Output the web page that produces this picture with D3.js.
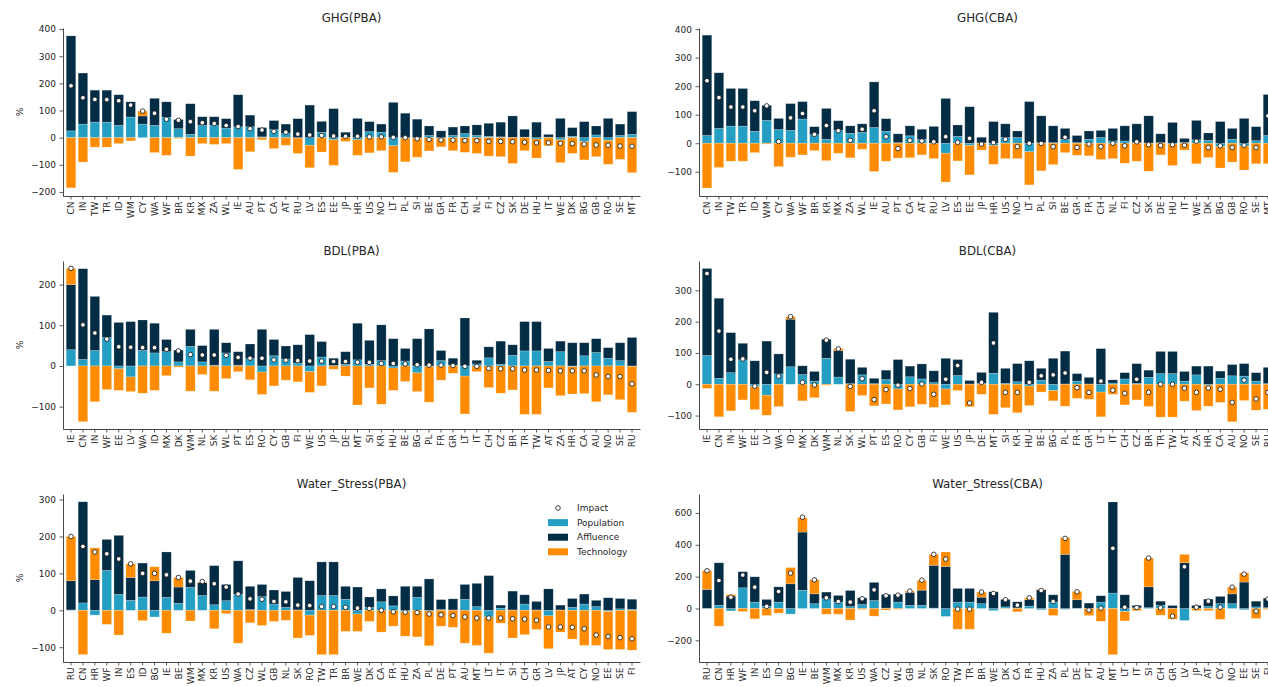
<!DOCTYPE html>
<html>
<head>
<meta charset="utf-8">
<script src="https://cdn.jsdelivr.net/npm/d3@7"></script>
<style>
  body { margin: 0; background: #fff; }
  text { font-family: "DejaVu Sans", sans-serif; }
</style>
</head>
<body>
<svg id="chart" width="1268" height="687"></svg>
<script>
// country order per indicator (same order for PBA and CBA)
const ghgCountries = ["CN","IN","TW","TR","ID","WM","CY","WA","WF","BR","KR","MX","ZA","WL","IE","AU","PT","CA","AT","RU","LV","ES","EE","JP","HR","US","NO","LT","PL","SI","BE","GR","FR","CH","NL","FI","CZ","SK","DE","HU","IT","WE","DK","BG","GB","RO","SE","MT"];
const bdlCountries = ["IE","CN","IN","WF","EE","LV","WA","ID","MX","DK","WM","NL","SK","WL","PT","ES","RO","CY","GB","FI","WE","US","JP","DE","MT","SI","KR","HU","BE","BG","PL","FR","GR","LT","IT","CH","CZ","BR","TR","TW","AT","ZA","HR","CA","AU","NO","SE","RU"];
const waterCountries = ["RU","CN","HR","WF","IN","ES","ID","BG","IE","BE","WM","MX","KR","US","WA","CZ","WL","GB","NL","SK","RO","TW","TR","BR","WE","DK","CA","FR","HU","ZA","PL","DE","PT","AU","MT","LT","IT","SI","CH","GR","LV","JP","AT","CY","NO","EE","SE","FI"];

// GHG (PBA)
const ghgPbaPop = [25,50,57,57,45,76,50,45,75,33,12,45,45,35,40,40,3,30,15,-2,-28,20,-8,1,-8,22,20,-30,-3,-2,8,-2,8,15,8,5,3,1,2,-5,2,-8,5,-15,10,-10,8,12];
const ghgPbaAff = [350,188,118,118,113,56,30,100,57,34,113,32,32,35,118,43,34,33,35,70,120,40,107,19,71,37,30,130,90,68,35,25,31,28,39,48,54,79,29,57,10,71,32,59,33,71,42,84];
const ghgPbaTech = [-185,-90,-35,-35,-22,-12,18,-55,-65,-3,-68,-22,-25,-22,-117,-52,-8,-40,-28,-56,-83,-53,-94,-14,-57,-56,-48,-98,-86,-70,-49,-32,-48,-54,-58,-68,-70,-95,-48,-70,-30,-84,-58,-67,-70,-88,-80,-129];
const ghgPbaImpact = [191,147,141,140,136,120,98,90,68,64,59,55,52,45,41,33,28,23,20,13,10,8,6,5,5,3,3,1,0,-4,-7,-9,-9,-11,-11,-14,-14,-15,-17,-19,-19,-21,-22,-24,-27,-28,-31,-32];

// GHG (CBA)
const ghgCbaPop = [27,52,60,60,42,80,48,45,85,30,14,45,35,38,55,42,2,26,13,-1,-35,24,-8,1,-8,20,20,-30,2,2,14,2,14,20,8,8,2,1,2,-3,3,12,10,-12,14,-10,9,27];
const ghgCbaAff = [352,195,132,132,107,53,39,94,61,28,108,34,26,30,160,44,31,35,36,59,157,40,128,20,76,48,23,146,94,59,38,25,29,25,44,53,66,95,31,73,14,68,26,76,38,87,49,144];
const ghgCbaTech = [-157,-85,-63,-63,-33,-3,-82,-49,-41,-26,-61,-35,-51,-21,-99,-63,-52,-51,-41,-53,-101,-62,-103,-24,-66,-54,-54,-116,-97,-75,-33,-42,-44,-57,-54,-70,-63,-98,-41,-75,-24,-72,-50,-75,-66,-84,-72,-72];
const ghgCbaImpact = [219,160,127,127,114,131,6,89,104,31,62,44,10,49,114,23,-19,10,8,5,23,3,17,-3,2,14,-12,0,-1,-12,21,-15,-3,-12,0,-9,5,-5,-8,-5,-7,7,-15,-9,-15,-7,-15,96];

// BDL (PBA)
const bdlPbaPop = [40,16,38,70,-7,-27,38,32,35,10,48,10,2,32,2,18,-15,25,17,7,-14,22,1,4,15,4,13,-5,12,-17,-2,13,2,-25,5,20,4,26,37,37,11,35,-2,25,33,19,13,-1];
const bdlPbaAff = [160,223,133,55,107,109,75,73,30,29,42,40,88,25,33,36,90,40,32,45,77,38,18,31,90,59,88,67,31,67,91,25,17,118,9,27,57,26,72,72,32,26,57,32,34,26,44,70];
const bdlPbaTech = [40,-137,-88,-58,-53,-36,-67,-60,-24,-3,-62,-21,-62,-31,-14,-34,-55,-49,-35,-39,-51,-49,-8,-25,-96,-54,-94,-55,-38,-46,-87,-35,-18,-93,-14,-53,-67,-59,-119,-119,-54,-73,-67,-68,-88,-71,-83,-113];
const bdlPbaImpact = [240,101,81,66,47,46,45,45,41,37,28,27,27,26,21,19,19,15,14,13,12,12,11,11,9,9,6,6,5,3,2,2,1,-1,-1,-6,-7,-7,-10,-10,-11,-12,-12,-12,-22,-26,-26,-44];

// BDL (CBA)
const bdlCbaPop = [92,19,37,78,-7,-35,33,56,31,10,83,23,2,30,2,15,-15,24,17,5,-15,28,1,3,35,3,8,-6,13,-20,1,10,1,-25,4,17,3,22,34,34,10,30,-3,19,27,26,10,2];
const bdlCbaAff = [278,256,128,53,75,138,64,152,28,31,61,84,78,24,17,30,79,34,48,38,83,51,11,35,195,48,58,75,38,83,105,24,21,114,10,20,63,23,71,71,31,28,58,23,36,40,27,52];
const bdlCbaTech = [-13,-104,-85,-50,-74,-64,-71,8,-53,-43,-3,7,-87,-36,-69,-63,-67,-72,-64,-74,-51,-20,-72,-32,-96,-75,-91,-62,-25,-33,-70,-45,-48,-79,-32,-66,-50,-71,-105,-105,-54,-84,-67,-58,-120,-52,-83,-80];
const bdlCbaImpact = [354,170,80,81,-6,38,26,216,6,-2,141,113,-7,18,-49,-17,-3,-14,1,-32,16,60,-60,6,132,-26,-26,6,27,30,36,-11,-26,10,-19,-29,16,-26,0,0,-13,-26,-12,-16,-58,13,-47,-26];

// Water_Stress (PBA)
const waterPbaPop = [1,20,-13,108,43,27,36,-18,35,19,62,40,15,26,43,2,37,17,8,1,-13,40,40,30,-10,8,23,12,-4,35,-2,2,1,30,10,-18,6,1,17,1,-15,1,8,17,10,-3,4,3];
const waterPbaAff = [79,274,83,84,160,62,92,80,123,44,46,35,106,44,91,63,33,38,43,88,80,91,91,35,63,28,35,27,65,30,85,27,30,40,63,94,8,51,25,23,58,13,24,27,17,34,28,27];
const waterPbaTech = [120,-120,86,-38,-67,37,-28,38,-62,26,-29,2,-50,-9,-89,-34,-41,-30,-27,-75,-55,-120,-120,-57,-47,-30,-59,-43,-66,-72,-94,-43,-46,-89,-95,-98,-35,-75,-66,-52,-89,-59,-78,-95,-95,-103,-106,-108];
const waterPbaImpact = [200,173,158,153,139,126,100,100,96,89,79,78,72,63,44,31,30,24,23,14,13,10,10,8,6,5,0,-4,-5,-6,-10,-12,-14,-18,-21,-21,-21,-23,-24,-27,-45,-45,-46,-50,-67,-71,-74,-77];

// Water_Stress (CBA)
const waterCbaPop = [1,20,-15,130,40,15,40,-35,115,30,61,40,12,25,50,3,40,20,20,3,-50,40,40,30,-13,10,4,15,-8,40,-5,2,1,40,97,-20,5,5,20,2,-75,1,12,30,30,-8,10,5];
const waterCbaAff = [119,267,78,101,159,42,96,155,365,62,42,42,101,42,114,85,50,81,95,268,264,86,86,41,105,47,38,40,117,46,340,53,33,40,572,86,14,131,26,17,287,18,47,46,62,166,36,60];
const waterCbaTech = [117,-111,10,-19,-65,-44,-29,102,90,88,-36,-36,-73,-6,-48,-10,-5,8,61,69,91,-130,-130,32,2,-2,-21,12,4,-44,105,52,-44,-80,-290,-58,-13,181,-42,-67,53,-13,-13,-68,42,58,-63,-6];
const waterCbaImpact = [237,176,71,210,134,13,107,222,573,180,67,44,40,61,117,80,84,109,178,340,310,-4,-4,103,94,55,21,67,113,44,440,105,-10,2,378,8,6,317,4,-48,262,8,46,8,134,216,-17,59];

const seriesKeys = ["Population", "Affluence", "Technology"];
const colors = { Population: "#249fc3", Affluence: "#032c45", Technology: "#ff8c00" };

const panels = [
  { title: "GHG(PBA)", countries: ghgCountries, pop: ghgPbaPop, aff: ghgPbaAff, tech: ghgPbaTech, impact: ghgPbaImpact,
    col: 0, row: 0, ylim: [-215, 404], ticks: [-200, -100, 0, 100, 200, 300, 400] },
  { title: "GHG(CBA)", countries: ghgCountries, pop: ghgCbaPop, aff: ghgCbaAff, tech: ghgCbaTech, impact: ghgCbaImpact,
    col: 1, row: 0, ylim: [-185, 404], ticks: [-100, 0, 100, 200, 300, 400] },
  { title: "BDL(PBA)", countries: bdlCountries, pop: bdlPbaPop, aff: bdlPbaAff, tech: bdlPbaTech, impact: bdlPbaImpact,
    col: 0, row: 1, ylim: [-155, 258], ticks: [-100, 0, 100, 200] },
  { title: "BDL(CBA)", countries: bdlCountries, pop: bdlCbaPop, aff: bdlCbaAff, tech: bdlCbaTech, impact: bdlCbaImpact,
    col: 1, row: 1, ylim: [-143, 394], ticks: [-100, 0, 100, 200, 300] },
  { title: "Water_Stress(PBA)", countries: waterCountries, pop: waterPbaPop, aff: waterPbaAff, tech: waterPbaTech, impact: waterPbaImpact,
    col: 0, row: 2, ylim: [-140, 315], ticks: [-100, 0, 100, 200, 300], legend: true },
  { title: "Water_Stress(CBA)", countries: waterCountries, pop: waterCbaPop, aff: waterCbaAff, tech: waterCbaTech, impact: waterCbaImpact,
    col: 1, row: 2, ylim: [-336, 719], ticks: [-200, 0, 200, 400, 600] }
];

// layout
const colX = [63, 699];
const rowY = [28, 261, 494];
const plotW = 577;
const plotH = 168;

const svg = d3.select("#chart");
svg.append("rect").attr("width", 1268).attr("height", 687).attr("fill", "#fff");

panels.forEach(function (p) {
  const left = colX[p.col];
  const top = rowY[p.row];
  const g = svg.append("g");

  const rows = p.countries.map((c, i) => ({
    country: c,
    Population: p.pop[i],
    Affluence: p.aff[i],
    Technology: p.tech[i],
    Impact: p.impact[i],
  }));

  const x = d3.scaleBand()
    .domain(p.countries)
    .range([left, left + plotW])
    .paddingInner(0.2)
    .paddingOuter(0.27);

  const y = d3.scaleLinear()
    .domain(p.ylim)
    .range([top + plotH, top]);

  const stacked = d3.stack()
    .keys(seriesKeys)
    .offset(d3.stackOffsetDiverging)(rows);

  g.selectAll("g.series")
    .data(stacked)
    .join("g")
    .attr("class", "series")
    .attr("fill", (d) => colors[d.key])
    .selectAll("rect")
    .data((d) => d)
    .join("rect")
    .attr("x", (d) => x(d.data.country))
    .attr("width", x.bandwidth())
    .attr("y", (d) => y(Math.max(d[0], d[1])))
    .attr("height", (d) => Math.abs(y(d[0]) - y(d[1])))
    .attr("stroke", "#fff")
    .attr("stroke-opacity", 0.35)
    .attr("stroke-width", 0.6);

  // impact markers
  g.selectAll("circle.impact")
    .data(rows)
    .join("circle")
    .attr("class", "impact")
    .attr("cx", (d) => x(d.country) + x.bandwidth() / 2)
    .attr("cy", (d) => y(d.Impact))
    .attr("r", 2.3)
    .attr("fill", "#fff")
    .attr("stroke", "#111")
    .attr("stroke-width", 0.8);

  // axes
  const yAxis = d3.axisLeft(y)
    .tickValues(p.ticks)
    .tickSize(3.5)
    .tickPadding(3.5)
    .tickSizeOuter(0)
    .tickFormat(d3.format("d"));

  const gy = g.append("g")
    .attr("transform", "translate(" + left + ",0)")
    .call(yAxis);

  const xAxis = d3.axisBottom(x).tickSize(3.5).tickSizeOuter(0);
  const gx = g.append("g")
    .attr("transform", "translate(0," + (top + plotH) + ")")
    .call(xAxis);

  gx.selectAll("text")
    .attr("transform", "rotate(-90)")
    .attr("x", -5.5)
    .attr("y", 0)
    .attr("dy", "0.35em")
    .style("text-anchor", "end");

  [gx, gy].forEach(function (a) {
    a.selectAll("text").attr("fill", "#262626").style("font-size", "9px").style("font-family", "DejaVu Sans");
    a.selectAll("line").attr("stroke", "#333").attr("stroke-width", 0.8);
    a.select(".domain").attr("stroke", "#333").attr("stroke-width", 0.9);
  });

  // title
  g.append("text")
    .attr("x", left + plotW / 2)
    .attr("y", top - 6)
    .attr("text-anchor", "middle")
    .attr("fill", "#262626")
    .style("font-size", "11.8px")
    .text(p.title);

  // y label on left column
  if (p.col === 0) {
    g.append("text")
      .attr("transform", "rotate(-90)")
      .attr("x", -(top + plotH / 2))
      .attr("y", 20)
      .attr("dy", "0.35em")
      .attr("text-anchor", "middle")
      .attr("fill", "#262626")
      .style("font-size", "9px")
      .text("%");
  }

  if (p.legend) {
    const lg = g.append("g").attr("transform", "translate(548,508)");
    lg.append("circle")
      .attr("cx", 10).attr("cy", 0).attr("r", 2.3)
      .attr("fill", "#fff").attr("stroke", "#111").attr("stroke-width", 0.8);
    lg.append("text")
      .attr("x", 29).attr("y", 0).attr("dy", "0.35em")
      .attr("fill", "#262626").style("font-size", "9px")
      .text("Impact");
    seriesKeys.forEach(function (k, i) {
      const yy = 14.6 * (i + 1);
      lg.append("rect")
        .attr("x", 0).attr("y", yy - 3.5)
        .attr("width", 20).attr("height", 7)
        .attr("fill", colors[k]);
      lg.append("text")
        .attr("x", 29).attr("y", yy).attr("dy", "0.35em")
        .attr("fill", "#262626").style("font-size", "9px")
        .text(k);
    });
  }
});
</script>
</body>
</html>
